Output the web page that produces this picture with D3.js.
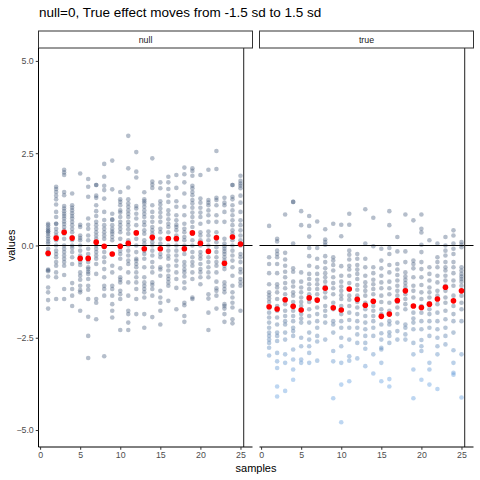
<!DOCTYPE html>
<html>
<head>
<meta charset="utf-8">
<script src="https://cdn.jsdelivr.net/npm/d3@7"></script>
<style>
  body { margin: 0; background: #fff; }
  svg { font-family: "Liberation Sans", Arial, sans-serif; }
</style>
</head>
<body>
<div id="chart"></div>
<script>
// facet labels and sample numbers
var panels = ["null", "true"];
var samples = [1,2,3,4,5,6,7,8,9,10,11,12,13,14,15,16,17,18,19,20,21,22,23,24,25];

// values, one list per sample
var nullValues = [
  [0.59,0.55,0.48,0.43,0.38,0.38,0.32,0.25,0.18,0.11,0.05,-0.09,-0.18,-0.25,-0.65,-0.67,-0.70,-0.84,-1.14,-1.27,-1.48,-1.71],
  [1.59,1.53,1.45,1.35,1.25,1.11,0.91,0.77,0.59,0.59,0.45,0.36,0.27,0.14,0,-0.14,-0.23,-0.32,-0.45,-0.55,-0.73,-0.86,-1.45],
  [2.05,1.98,1.91,1.45,1.36,1.07,1.0,0.93,0.86,0.8,0.73,0.65,0.58,0.5,0.41,0.32,0.18,0,-0.09,-0.18,-0.27,-0.36,-0.45,-0.55,-0.8,-1.18,-1.45],
  [1.41,1.09,1.02,0.95,0.87,0.8,0.73,0.64,0.55,0.45,0.36,0.23,0.14,0,-0.07,-0.18,-0.32,-0.5,-1.02,-1.18,-1.36,-1.64],
  [1.95,0.56,0.5,0.27,0.2,0.14,0,-0.14,-0.27,-0.36,-0.45,-0.53,-0.73,-0.82,-0.93,-1.09,-1.21,-1.27,-1.77],
  [1.8,1.59,1.32,0.73,0.56,0.45,0.27,0.14,-0.09,-0.23,-0.36,-0.45,-0.59,-0.64,-0.71,-0.77,-0.91,-1.09,-1.2,-1.45,-1.93,-2.45,-3.05],
  [1.64,1.64,1.35,1.29,1.09,0.93,0.8,0.64,0.55,0.45,0.36,0.27,0.18,0.09,0,-0.09,-0.18,-0.27,-0.36,-0.5,-0.77,-1.45,-1.55,-2.0],
  [2.21,1.86,1.62,1.5,1.27,0.91,0.69,0.55,0.45,0.36,0.27,0.18,-0.05,-0.18,-0.32,-0.45,-0.64,-0.86,-1.09,-1.18,-1.36,-3.0],
  [2.3,1.52,0.86,0.7,0.7,0.55,0.45,0.38,0.32,0.23,0.14,-0.23,-0.55,-0.73,-1.09,-1.18,-1.36,-1.59,-1.77,-1.95],
  [1.45,1.25,1.18,1.09,0.95,0.89,0.77,0.64,0.55,0.45,0.36,0.18,0,-0.14,-0.23,-0.36,-0.62,-0.86,-0.93,-1.0,-1.23,-1.32,-1.45,-2.29],
  [2.97,2.09,1.57,1.25,1.14,1.05,0.95,0.86,0.77,0.64,0.55,0.44,0.32,0.14,0,-0.14,-0.27,-0.41,-0.5,-0.73,-1.0,-1.36,-1.77,-1.86,-2.09,-2.29],
  [2.53,2.0,1.84,1.07,1.0,0.86,0.73,0.55,0.36,0.18,0,-0.18,-0.36,-0.41,-0.5,-0.59,-0.73,-0.86,-1.0,-1.18,-1.45,-1.86],
  [1.44,1.25,1.2,1.14,1.05,0.95,0.86,0.77,0.64,0.55,0.41,0.32,0.14,0.05,-0.14,-0.23,-0.36,-0.59,-0.86,-1.0,-1.09,-1.18,-1.27,-1.41,-1.86,-2.23],
  [2.36,1.73,1.65,1.56,1.09,0.91,0.77,0.64,0.5,0.41,0.32,0.18,0.09,0,-0.14,-0.27,-0.45,-0.59,-0.73,-1.0,-1.07,-1.18,-1.36,-1.94],
  [1.71,1.55,1.2,1.11,1.0,0.89,0.77,0.64,0.45,0.36,0.18,0.05,-0.09,-0.23,-0.32,-0.59,-0.65,-0.82,-1.23,-1.41,-1.55,-1.77,-2.14],
  [1.86,1.71,1.53,1.35,1.18,0.95,0.84,0.71,0.59,0.5,0.36,0.18,0,-0.14,-0.27,-0.36,-0.55,-0.68,-0.82,-0.91,-1.0,-1.09,-1.5],
  [1.91,1.56,1.2,1.05,0.82,0.68,0.56,0.5,0.41,0.27,0.14,0,-0.14,-0.27,-0.41,-0.55,-0.73,-0.91,-1.15,-1.73],
  [2.11,1.93,1.71,1.41,1.05,0.82,0.59,0.45,0.36,0.23,0.14,0,-0.11,-0.23,-0.45,-0.55,-0.65,-0.73,-0.84,-1.0,-1.16,-1.55,-1.62,-1.91,-2.07],
  [2.09,2.02,1.89,1.62,1.55,1.45,1.36,1.23,1.14,1.02,0.89,0.77,0.64,0.5,0.32,0.14,0,-0.18,-0.32,-0.45,-0.55,-0.73,-0.91,-1.41,-1.45],
  [1.91,1.27,1.16,1.02,0.89,0.77,0.59,0.36,0.27,0.14,0,-0.18,-0.27,-0.36,-0.5,-0.64,-0.73,-0.86,-1.05],
  [2.05,1.23,1.16,1.09,0.95,0.82,0.64,0.38,0.27,0.14,0,-0.14,-0.32,-0.45,-0.59,-0.73,-0.86,-1.32,-1.44,-1.82,-2.29],
  [2.56,2.07,1.29,1.23,1.09,0.82,0.64,0.36,0.23,0.09,-0.05,-0.18,-0.32,-0.45,-0.55,-0.73,-0.98,-1.16,-1.23,-1.36,-1.71],
  [1.29,1.16,1.09,0.91,0.64,0.18,0.05,-0.02,-0.09,-0.16,-0.23,-0.32,-0.41,-0.55,-0.64,-1.0,-1.09,-1.18,-1.27,-1.59,-1.64,-1.71,-1.86,-2.07],
  [1.64,1.64,1.32,1.25,1.09,0.95,0.82,0.68,0.55,0.41,0.32,0.14,0,-0.14,-0.27,-0.41,-0.59,-0.82,-1.09,-1.27,-1.41,-1.55,-1.68,-2.0,-2.11],
  [1.89,1.75,1.68,1.62,1.55,1.35,1.16,0.91,0.68,0.55,0.41,0.27,0.14,0,-0.23,-0.32,-0.45,-0.64,-0.73,-0.91,-1.0,-1.09,-1.77]
];

var trueValues = [
  [0.53,-0.32,-0.5,-0.75,-1.05,-1.27,-1.35,-1.44,-1.53,-1.68,-1.82,-1.95,-2.09,-2.23,-2.36,-2.45,-2.55,-2.64,-2.77,-2.98],
  [0.18,0.11,-0.14,-0.23,-0.32,-0.5,-0.75,-1.05,-1.14,-1.27,-1.45,-1.64,-1.77,-1.95,-2.14,-2.36,-2.45,-2.59,-2.91,-3.14,-3.32,-3.82,-4.09],
  [0.84,-0.2,-0.38,-0.55,-0.71,-0.86,-1.02,-1.16,-1.32,-1.45,-1.59,-1.77,-1.91,-2.05,-2.14,-2.36,-2.55,-2.95,-3.18,-3.94],
  [1.18,1.18,0.05,-0.62,-0.71,-0.98,-1.11,-1.27,-1.36,-1.53,-1.65,-1.77,-1.91,-2.05,-2.23,-2.32,-2.45,-2.82,-3.09,-3.36,-3.64],
  [0.93,0.55,-0.73,-0.98,-1.14,-1.27,-1.41,-1.53,-1.64,-1.75,-1.86,-1.98,-2.09,-2.5,-2.73,-3.09,-3.18],
  [0.8,0.53,0.24,-0.07,-0.29,-0.55,-0.77,-0.91,-1.05,-1.18,-1.32,-1.53,-1.73,-1.91,-2.09,-2.36,-2.55,-2.73,-2.91,-3.18],
  [0.65,-0.07,-0.36,-0.59,-0.77,-0.93,-1.05,-1.18,-1.32,-1.5,-1.68,-1.86,-2.05,-2.23,-2.45,-2.6,-3.12],
  [0.44,0.16,0.09,0.02,-0.29,-0.45,-0.62,-0.75,-0.86,-0.98,-1.11,-1.27,-1.41,-1.64,-1.77,-1.91,-2.09,-2.55],
  [0.59,-0.32,-0.41,-0.53,-0.68,-0.86,-1.02,-1.16,-1.32,-1.55,-1.73,-2.05,-2.14,-2.36,-2.86,-3.14,-4.14],
  [0.56,0.25,-0.56,-0.82,-0.98,-1.11,-1.23,-1.35,-1.45,-1.64,-1.86,-2.05,-2.23,-2.5,-2.73,-3.18,-3.77,-4.79],
  [0.86,0.56,-0.14,-0.25,-0.38,-0.55,-0.65,-0.82,-1.02,-1.2,-1.36,-1.47,-1.64,-1.82,-2.02,-2.23,-2.55,-3.0,-3.12,-3.68],
  [-0.23,-0.36,-0.53,-0.65,-0.77,-0.91,-1.07,-1.2,-1.36,-1.53,-1.68,-1.86,-2.05,-2.23,-2.41,-2.64,-3.06],
  [0.98,0.05,-0.36,-0.59,-0.82,-1.0,-1.11,-1.23,-1.36,-1.55,-1.73,-1.91,-2.09,-2.27,-2.45,-2.64,-2.8,-3.27],
  [0.75,-0.02,-0.59,-0.75,-0.93,-1.05,-1.18,-1.32,-1.5,-1.64,-1.77,-1.91,-2.05,-2.23,-2.45,-2.95,-3.47],
  [-0.09,-0.41,-0.62,-0.82,-1.0,-1.16,-1.36,-1.53,-1.73,-1.86,-2.14,-2.38,-2.55,-2.77,-2.82,-3.18,-3.68],
  [0.93,0.55,-0.07,-0.23,-0.53,-0.73,-0.98,-1.16,-1.32,-1.55,-1.77,-2.05,-2.14,-2.35,-2.45,-2.64,-3.62,-3.82],
  [0.23,-0.16,-0.5,-0.65,-0.8,-0.95,-1.09,-1.23,-1.36,-1.53,-1.68,-1.86,-2.09,-2.32,-2.55],
  [0.84,-0.16,-0.45,-0.73,-0.84,-0.93,-1.02,-1.11,-1.2,-1.32,-1.45,-1.59,-1.73,-2.14,-2.23,-2.41,-2.55],
  [0.68,-0.41,-0.5,-0.62,-0.86,-1.09,-1.23,-1.41,-1.64,-1.82,-1.98,-2.09,-2.27,-2.64,-2.95,-3.36,-4.14],
  [0.84,0.45,0.35,0.02,-0.18,-0.45,-0.64,-0.86,-1.07,-1.27,-1.45,-1.64,-1.82,-2.05,-2.27,-2.56,-2.73,-2.86,-3.64],
  [0.14,-0.59,-0.77,-0.95,-1.14,-1.27,-1.41,-1.56,-1.73,-1.86,-2.05,-2.23,-2.45,-3.18,-3.36,-3.77],
  [0.05,-0.32,-0.45,-0.59,-0.82,-1.0,-1.23,-1.36,-1.59,-1.82,-2.05,-2.27,-2.5,-2.73,-2.95,-3.89],
  [0.23,0,-0.14,-0.27,-0.45,-0.59,-0.68,-0.82,-0.95,-1.09,-1.23,-1.41,-1.55,-1.77,-2.0,-2.23,-2.45,-2.68],
  [0.41,0.27,0.05,-0.09,-0.23,-0.45,-0.59,-0.75,-0.95,-1.09,-1.36,-1.64,-1.86,-2.05,-2.36,-2.84,-3.18,-3.45,-3.5],
  [0.09,0.02,-0.05,-0.59,-0.68,-0.77,-0.84,-0.91,-0.98,-1.09,-1.23,-1.36,-1.55,-1.73,-2.05,-2.95,-4.12]
];

// red sample means
var nullMeans = [-0.21,0.2,0.36,0.2,-0.35,-0.35,0.09,-0.02,-0.23,-0.02,0.06,0.34,-0.09,0.22,-0.09,0.19,0.19,-0.09,0.34,0.06,-0.16,0.21,-0.48,0.23,0.04];
var trueMeans = [-1.66,-1.72,-1.47,-1.65,-1.75,-1.42,-1.48,-1.16,-1.69,-1.75,-1.18,-1.46,-1.62,-1.51,-1.92,-1.86,-1.49,-1.23,-1.64,-1.68,-1.59,-1.45,-1.13,-1.5,-1.23];

var xTicks = [0, 5, 10, 15, 20, 25];
var yTicks = [-5, -2.5, 0, 2.5, 5];
var hLine = 0;
var vLine = 25.4;

var width = 480, height = 480;
var panelTop = 48, panelBottom = 447;
var panelLefts = [38.5, 259.5];
var panelWidth = 214;
var stripHeight = 17;

var svg = d3.select("#chart").append("svg")
  .attr("width", width)
  .attr("height", height);

var y = d3.scaleLinear().domain([-5.46, 5.35]).range([panelBottom, panelTop]);

// lower values in the "true" facet fade towards blue
var trueColor = d3.scaleLinear()
  .domain([-1.5, -3.6])
  .range(["#465d7c", "#5a98dc"])
  .clamp(true);

svg.append("text")
  .attr("x", 39)
  .attr("y", 17)
  .attr("font-size", 13.5)
  .attr("fill", "#000")
  .text("null=0, True effect moves from -1.5 sd to 1.5 sd");

panels.forEach(function(name, p) {
  var left = panelLefts[p];
  var x = d3.scaleLinear().domain([-0.2, 26.5]).range([left, left + panelWidth]);
  var values = p === 0 ? nullValues : trueValues;
  var means = p === 0 ? nullMeans : trueMeans;

  var g = svg.append("g");

  // strip
  g.append("rect")
    .attr("x", left)
    .attr("y", panelTop - stripHeight)
    .attr("width", panelWidth)
    .attr("height", stripHeight)
    .attr("fill", "#fff")
    .attr("stroke", "#333")
    .attr("stroke-width", 1);
  g.append("text")
    .attr("x", left + panelWidth / 2)
    .attr("y", panelTop - stripHeight / 2)
    .attr("dy", "0.35em")
    .attr("text-anchor", "middle")
    .attr("font-size", 8.8)
    .attr("fill", "#1a1a1a")
    .text(name);

  // raw points
  var pts = [];
  samples.forEach(function(s, i) {
    values[i].forEach(function(v) { pts.push({s: s, v: v}); });
  });
  g.append("g").selectAll("circle")
    .data(pts)
    .enter()
    .append("circle")
    .attr("cx", function(d) { return x(d.s); })
    .attr("cy", function(d) { return y(d.v); })
    .attr("r", 2.3)
    .attr("fill", function(d) { return p === 0 ? "#465d7c" : trueColor(d.v); })
    .attr("fill-opacity", 0.4);

  // reference lines
  g.append("line")
    .attr("x1", left).attr("x2", left + panelWidth)
    .attr("y1", y(hLine)).attr("y2", y(hLine))
    .attr("stroke", "#000").attr("stroke-width", 1.1);
  g.append("line")
    .attr("x1", x(vLine)).attr("x2", x(vLine))
    .attr("y1", panelTop).attr("y2", panelBottom)
    .attr("stroke", "#333").attr("stroke-width", 1.1);

  // means
  g.append("g").selectAll("circle")
    .data(means)
    .enter()
    .append("circle")
    .attr("cx", function(d, i) { return x(samples[i]); })
    .attr("cy", function(d) { return y(d); })
    .attr("r", 2.8)
    .attr("fill", "#ff0000");

  // x axis
  var xAxis = g.append("g")
    .attr("transform", "translate(0," + panelBottom + ")")
    .call(d3.axisBottom(x).tickValues(xTicks).tickSize(2.75).tickPadding(2));
  xAxis.select(".domain").attr("stroke", "#000").attr("stroke-width", 1)
    .attr("d", "M" + left + ",0H" + (left + panelWidth));
  xAxis.selectAll(".tick line").attr("stroke", "#333");
  xAxis.selectAll(".tick text").attr("font-size", 8.8).attr("fill", "#4d4d4d")
    .attr("font-family", "'Liberation Sans', Arial, sans-serif");

  if (p === 0) {
    var yAxis = g.append("g")
      .attr("transform", "translate(" + left + ",0)")
      .call(d3.axisLeft(y).tickValues(yTicks).tickFormat(d3.format(".1f")).tickSize(2.75).tickPadding(2));
    yAxis.select(".domain").attr("stroke", "#000").attr("stroke-width", 1)
      .attr("d", "M0," + panelTop + "V" + panelBottom);
    yAxis.selectAll(".tick line").attr("stroke", "#333");
    yAxis.selectAll(".tick text").attr("font-size", 8.8).attr("fill", "#4d4d4d")
      .attr("font-family", "'Liberation Sans', Arial, sans-serif");
  }
});

svg.append("text")
  .attr("x", 256)
  .attr("y", 472)
  .attr("text-anchor", "middle")
  .attr("font-size", 11)
  .attr("fill", "#000")
  .text("samples");

svg.append("text")
  .attr("transform", "translate(15," + y(0) + ") rotate(-90)")
  .attr("text-anchor", "middle")
  .attr("font-size", 11)
  .attr("fill", "#000")
  .text("values");
</script>
</body>
</html>
